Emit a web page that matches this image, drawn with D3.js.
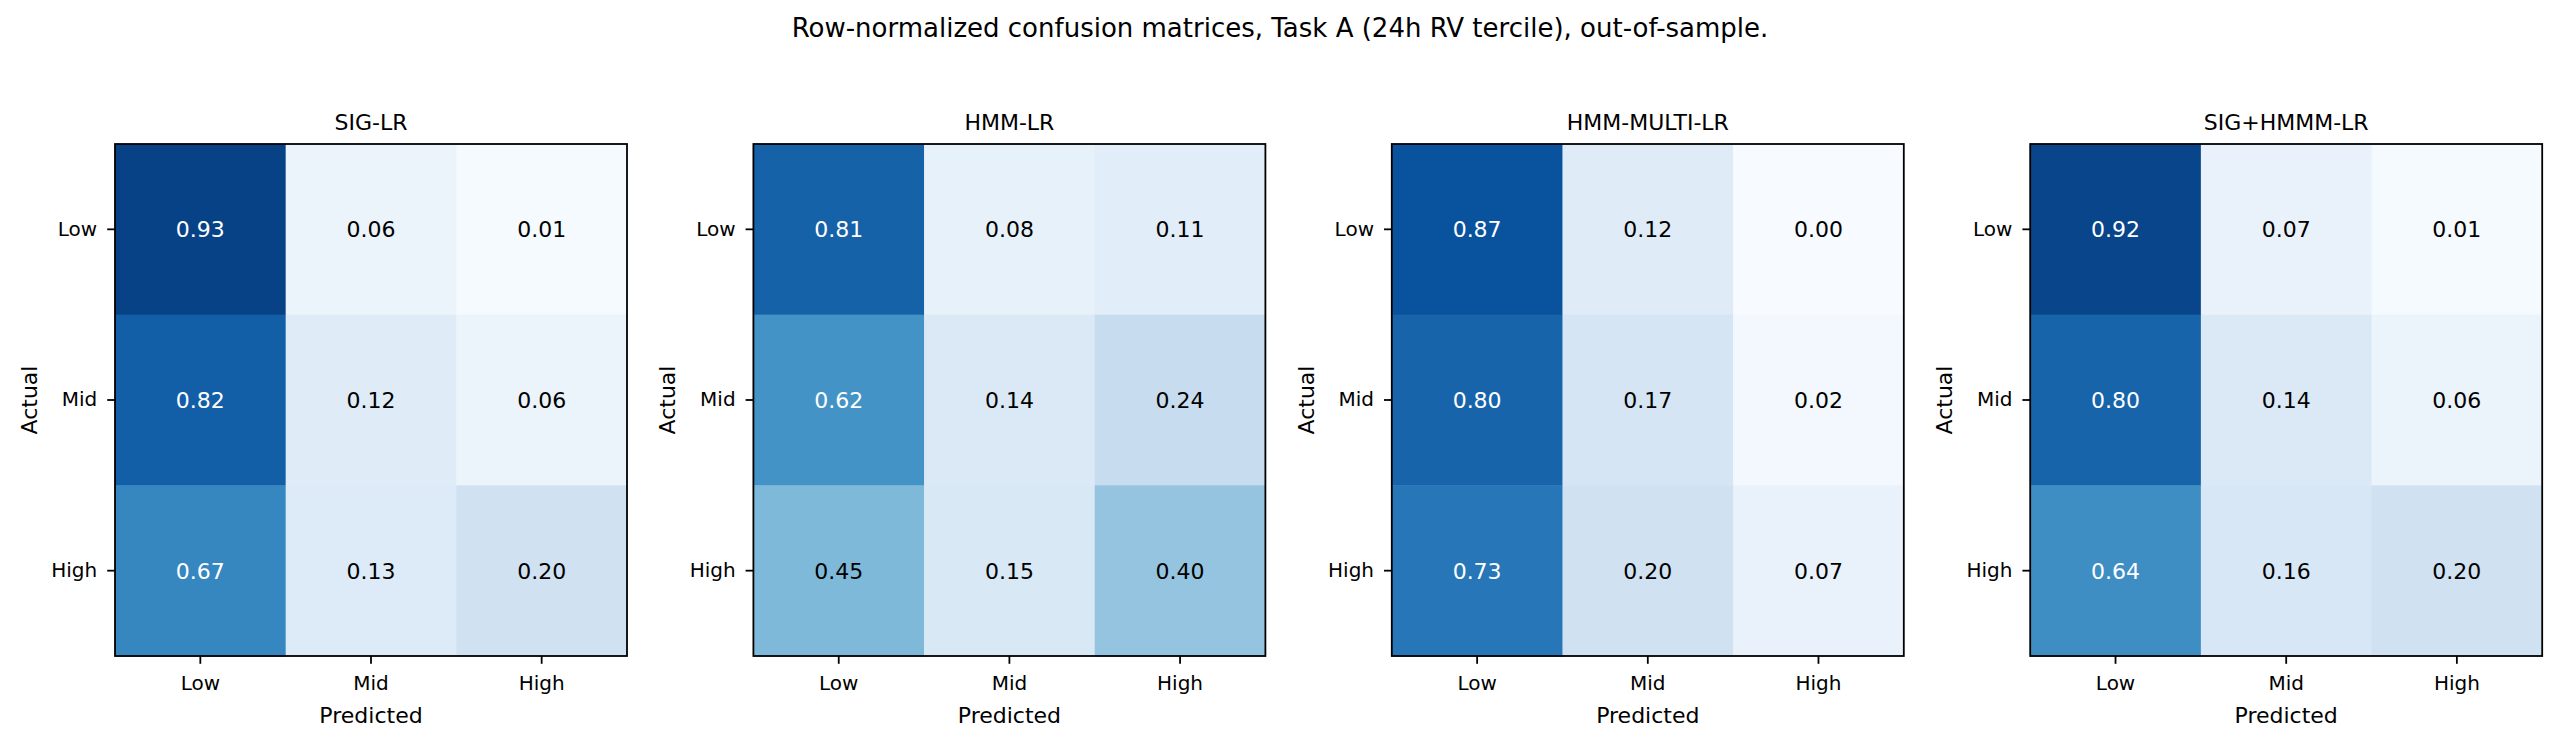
<!DOCTYPE html>
<html>
<head>
<meta charset="utf-8">
<script src="https://cdn.jsdelivr.net/npm/d3@7"></script>
<style>
  body { margin: 0; background: white; }
  svg { font-family: 'DejaVu Sans', sans-serif; }
</style>
</head>
<body>
<svg id="chart" width="2560" height="745"></svg>
<script>
// chart data
const classes = ['Low', 'Mid', 'High']
const models = ['SIG-LR', 'HMM-LR', 'HMM-MULTI-LR', 'SIG+HMMM-LR']
const sigLR = [[0.93, 0.06, 0.01], [0.82, 0.12, 0.06], [0.67, 0.13, 0.20]]
const hmmLR = [[0.81, 0.08, 0.11], [0.62, 0.14, 0.24], [0.45, 0.15, 0.40]]
const hmmMultiLR = [[0.87, 0.12, 0.00], [0.80, 0.17, 0.02], [0.73, 0.20, 0.07]]
const sigHmmmLR = [[0.92, 0.07, 0.01], [0.80, 0.14, 0.06], [0.64, 0.16, 0.20]]
const matrices = [sigLR, hmmLR, hmmMultiLR, sigHmmmLR]
const suptitle = 'Row-normalized confusion matrices, Task A (24h RV tercile), out-of-sample.'

// matplotlib Blues stops
const bluesStops = ['#f7fbff', '#deebf7', '#c6dbef', '#9ecae1', '#6baed6', '#4292c6', '#2171b5', '#08519c', '#08306b']

let svg = d3.select('svg#chart')

let size = 512
let panelTop = 144
let panelStep = 638.4
let firstLeft = 115

let color = d3.scaleLinear()
    .domain(d3.range(bluesStops.length).map(i => i / (bluesStops.length - 1)))
    .range(bluesStops)
    .clamp(true)

let x = d3.scaleBand().domain(classes).range([0, size])
let y = d3.scaleBand().domain(classes).range([0, size])

svg.append('text')
    .attr('x', 1280).attr('y', 37)
    .attr('text-anchor', 'middle')
    .attr('font-size', '26px')
    .text(suptitle)

models.forEach((name, mi) => {
    let data = matrices[mi]
    let left = firstLeft + mi * panelStep
    let g = svg.append('g').attr('transform', 'translate(' + left + ',' + panelTop + ')')

    let cells = []
    data.forEach((row, ri) => {
        row.forEach((v, ci) => {
            cells.push({ actual: classes[ri], pred: classes[ci], v: v })
        })
    })

    g.selectAll('rect.cell')
        .data(cells)
        .enter()
        .append('rect')
        .attr('class', 'cell')
        .attr('x', d => x(d.pred))
        .attr('y', d => y(d.actual))
        .attr('width', x.bandwidth() + 0.5)
        .attr('height', y.bandwidth() + 0.5)
        .attr('fill', d => color(d.v))

    g.selectAll('text.val')
        .data(cells)
        .enter()
        .append('text')
        .attr('class', 'val')
        .attr('x', d => x(d.pred) + x.bandwidth() / 2)
        .attr('y', d => y(d.actual) + y.bandwidth() / 2)
        .attr('dy', '0.36em')
        .attr('text-anchor', 'middle')
        .attr('font-size', '22px')
        .attr('fill', d => d.v > 0.5 ? 'white' : 'black')
        .text(d => d.v.toFixed(2))

    let xAxis = g.append('g')
        .attr('transform', 'translate(0,' + size + ')')
        .call(d3.axisBottom(x).tickSize(7.8).tickPadding(12))
    let yAxis = g.append('g')
        .call(d3.axisLeft(y).tickSize(7.8).tickPadding(10))

    ;[xAxis, yAxis].forEach(ax => {
        ax.select('.domain').remove()
        ax.selectAll('line').attr('stroke', 'black').attr('stroke-width', 1.8)
        ax.selectAll('text')
            .attr('font-size', '20px')
            .attr('font-family', 'DejaVu Sans, sans-serif')
            .attr('fill', 'black')
    })

    // spines
    g.append('rect')
        .attr('x', 0).attr('y', 0)
        .attr('width', size).attr('height', size)
        .attr('fill', 'none')
        .attr('stroke', 'black')
        .attr('stroke-width', 1.8)

    g.append('text')
        .attr('x', size / 2).attr('y', -14)
        .attr('text-anchor', 'middle')
        .attr('font-size', '22px')
        .text(name)

    g.append('text')
        .attr('x', size / 2).attr('y', size + 67)
        .attr('text-anchor', 'middle')
        .attr('font-size', '22px')
        .text('Predicted')

    g.append('text')
        .attr('transform', 'translate(' + (-78) + ',' + (size / 2) + ') rotate(-90)')
        .attr('text-anchor', 'middle')
        .attr('font-size', '22px')
        .text('Actual')
})
</script>
</body>
</html>
